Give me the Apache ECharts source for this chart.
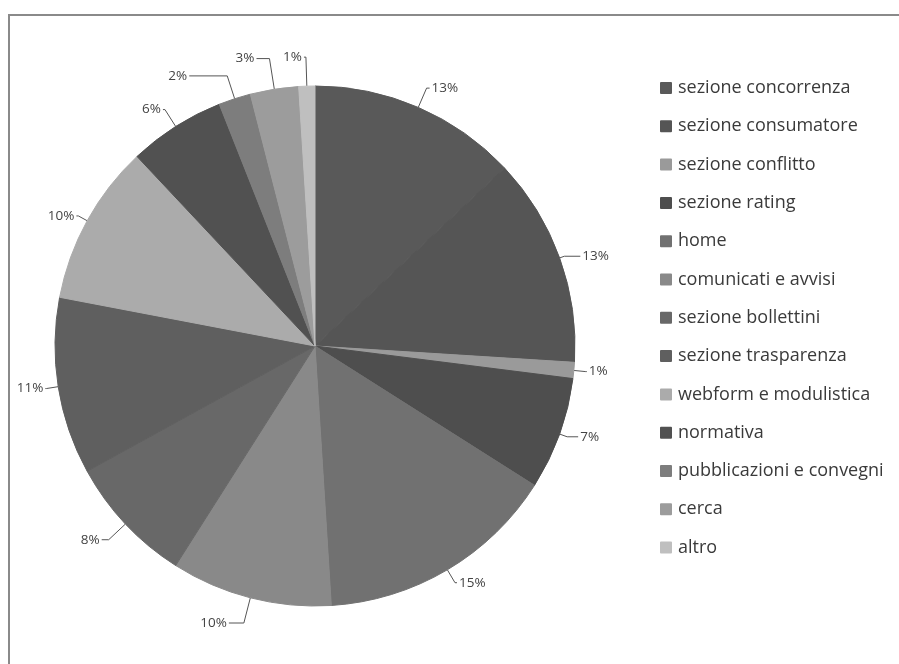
<!DOCTYPE html>
<html>
<head>
<meta charset="utf-8">
<script src="https://cdn.jsdelivr.net/npm/echarts@6/dist/echarts.min.js"></script>
<style>html,body{margin:0;padding:0;background:#fff;}#c{width:899px;height:664px;}</style>
</head>
<body>
<div id="c"></div>
<script>
var categories = ['sezione concorrenza','sezione consumatore','sezione conflitto','sezione rating','home','comunicati e avvisi','sezione bollettini','sezione trasparenza','webform e modulistica','normativa','pubblicazioni e convegni','cerca','altro'];
var values = [13,13,1,7,15,10,8,11,10,6,2,3,1];

// styling / layout (kept apart from the data)
var colors = ['#595959','#555555','#9a9a9a','#4e4e4e','#717171','#898989','#686868','#5f5f5f','#ababab','#515151','#7d7d7d','#9c9c9c','#bfbfbf'];
var leaderLen  = [21, 5, 12, 8, 15, 26, 23, 12, 10, 20, 24, 31, 29];
var leaderLen2 = [3, 16, 1, 11, 2, 15, 7, 1, 2, 2, 38, 13, 2];

var chart = echarts.init(document.getElementById('c'), null, {renderer:'canvas'});
chart.setOption({
  animation:false,
  color: colors,
  graphic:[{type:'rect', shape:{x:9,y:15,width:950,height:700}, style:{fill:'none', stroke:'#8a8a8a', lineWidth:2}, silent:true}],
  legend:{
    orient:'vertical', left:655, top:74,
    itemWidth:10, itemHeight:10, itemGap:20.3,
    icon:'rect',
    textStyle:{fontFamily:'Open Sans', fontSize:18, color:'#3a3a3a', lineHeight:18, padding:[0,0,0,2]},
    data: categories
  },
  series:[{
    type:'pie',
    center:[315,346],
    radius:[0,260],
    startAngle:90,
    clockwise:true,
    avoidLabelOverlap:false,
    label:{show:true, position:'outside', formatter:'{d}%', fontFamily:'Open Sans', fontSize:13.5, color:'#444', distanceToLabelLine:2},
    labelLine:{show:true, lineStyle:{color:'#555', width:1}},
    emphasis:{disabled:true},
    data: categories.map(function(n,i){
      return {
        name:n, value:values[i],
        itemStyle:{color:colors[i], borderColor:colors[i], borderWidth:1},
        labelLine:{length:leaderLen[i], length2:leaderLen2[i]}
      };
    })
  }]
});
</script>
</body>
</html>
